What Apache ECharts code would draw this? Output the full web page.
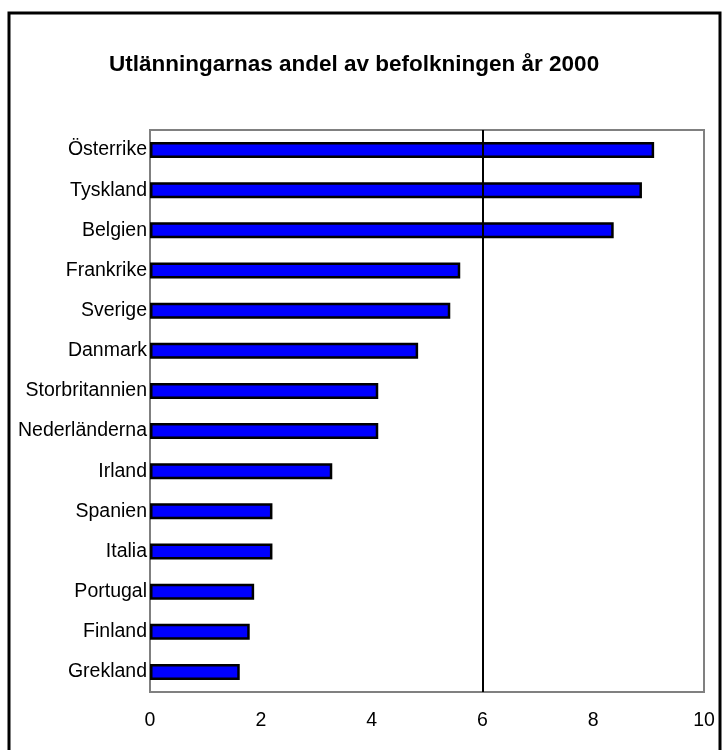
<!DOCTYPE html>
<html>
<head>
<meta charset="utf-8">
<script src="https://cdn.jsdelivr.net/npm/echarts@6/dist/echarts.min.js"></script>
<style>
html,body{margin:0;padding:0;background:#fff;}
#chart{width:723px;height:750px;}
</style>
</head>
<body>
<div id="chart"></div>
<script>
var titleText = 'Utlänningarnas andel av befolkningen år 2000';
var categories = ['Österrike','Tyskland','Belgien','Frankrike','Sverige','Danmark','Storbritannien','Nederländerna','Irland','Spanien','Italia','Portugal','Finland','Grekland'];
var values = [9.1, 8.88, 8.37, 5.6, 5.42, 4.84, 4.12, 4.12, 3.29, 2.21, 2.21, 1.88, 1.8, 1.62];
var xTicks = [0, 2, 4, 6, 8, 10];
var refLine = 6;

var FONT = 'Liberation Sans, Arial, sans-serif';
var chart = echarts.init(document.getElementById('chart'), null, {renderer:'canvas'});
chart.setOption({
  animation: false,
  backgroundColor: '#ffffff',
  textStyle: {fontFamily: FONT, color: '#000'},
  title: {
    text: titleText,
    left: 104,
    top: 48,
    textStyle: {fontSize: 22.5, fontWeight: 'bold', color: '#000', fontFamily: FONT}
  },
  graphic: [{
    type: 'rect',
    shape: {x: 9, y: 13, width: 711, height: 780},
    style: {fill: 'none', stroke: '#000', lineWidth: 3},
    silent: true
  }],
  grid: {
    left: 150, right: 19, top: 130, bottom: 58,
    show: true, borderColor: '#808080', borderWidth: 2, backgroundColor: 'transparent'
  },
  xAxis: {
    type: 'value',
    min: xTicks[0], max: xTicks[xTicks.length - 1], interval: 2,
    axisLine: {show: true, lineStyle: {color: '#808080', width: 2}},
    axisTick: {show: false},
    splitLine: {show: false},
    axisLabel: {fontSize: 19.5, color: '#000', margin: 19, fontFamily: FONT}
  },
  yAxis: {
    type: 'category',
    data: categories,
    inverse: true,
    axisLine: {show: true, lineStyle: {color: '#808080', width: 2}},
    axisTick: {show: false},
    splitLine: {show: false},
    axisLabel: {fontSize: 19.5, color: '#000', margin: 3, fontFamily: FONT}
  },
  series: [{
    type: 'bar',
    data: values,
    barWidth: 16,
    itemStyle: {color: '#0000FF', borderColor: '#000', borderWidth: 2.5},
    markLine: {
      silent: true,
      symbol: 'none',
      label: {show: false},
      lineStyle: {color: '#000', width: 2, type: 'solid'},
      data: [{xAxis: refLine}]
    },
    z: 3
  }]
});
</script>
</body>
</html>
